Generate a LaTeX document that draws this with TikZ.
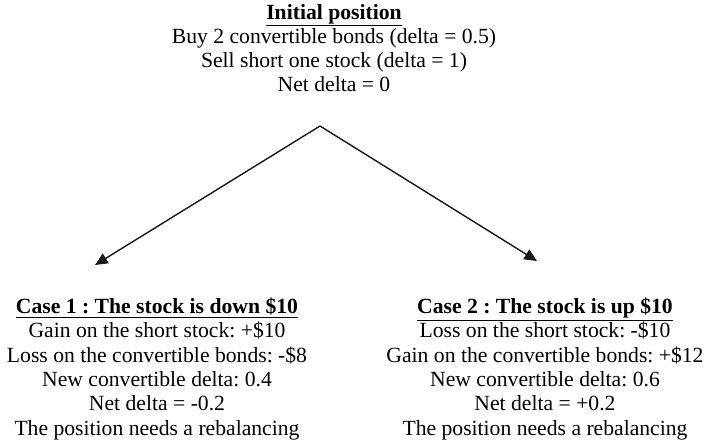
\documentclass[tikz,border=0pt]{standalone}
\usepackage{fontspec}
\setmainfont{Liberation Serif}
\usetikzlibrary{arrows.meta}
\frenchspacing

\begin{document}
\begin{tikzpicture}

\useasboundingbox (0,0) rectangle (17.725,-11.125);

\tikzset{
  casetext/.style={align=center, inner sep=0pt, anchor=base, font=\fontsize{15.4}{17.3}\selectfont},
  branch/.style={-{Triangle[length=9pt,width=8pt]}, line width=1pt, black!90}
}

% === TOP: INITIAL POSITION ===
\node[casetext] (init) at (8.35,-2.3) {\underline{\textbf{Initial position}}\\
  Buy 2 convertible bonds (delta = 0.5)\\
  Sell short one stock (delta = 1)\\
  Net delta = 0};

% === BRANCHES ===
\coordinate (apex) at (8.0,-3.15);
\coordinate (downtip) at (2.375,-6.625);
\coordinate (uptip) at (13.425,-6.525);
\draw[branch] (apex) -- (downtip);
\draw[branch] (apex) -- (uptip);

% === LEFT: STOCK DOWN ===
\node[casetext] (down) at (3.925,-10.875) {\underline{\textbf{Case 1 : The stock is down \$10}}\\
  Gain on the short stock: +\$10\\
  Loss on the convertible bonds: -\$8\\
  New convertible delta: 0.4\\
  Net delta = -0.2\\
  The position needs a rebalancing};

% === RIGHT: STOCK UP ===
\node[casetext] (up) at (13.625,-10.875) {\underline{\textbf{Case 2 : The stock is up \$10}}\\
  Loss on the short stock: -\$10\\
  Gain on the convertible bonds: +\$12\\
  New convertible delta: 0.6\\
  Net delta = +0.2\\
  The position needs a rebalancing};

\end{tikzpicture}
\end{document}
